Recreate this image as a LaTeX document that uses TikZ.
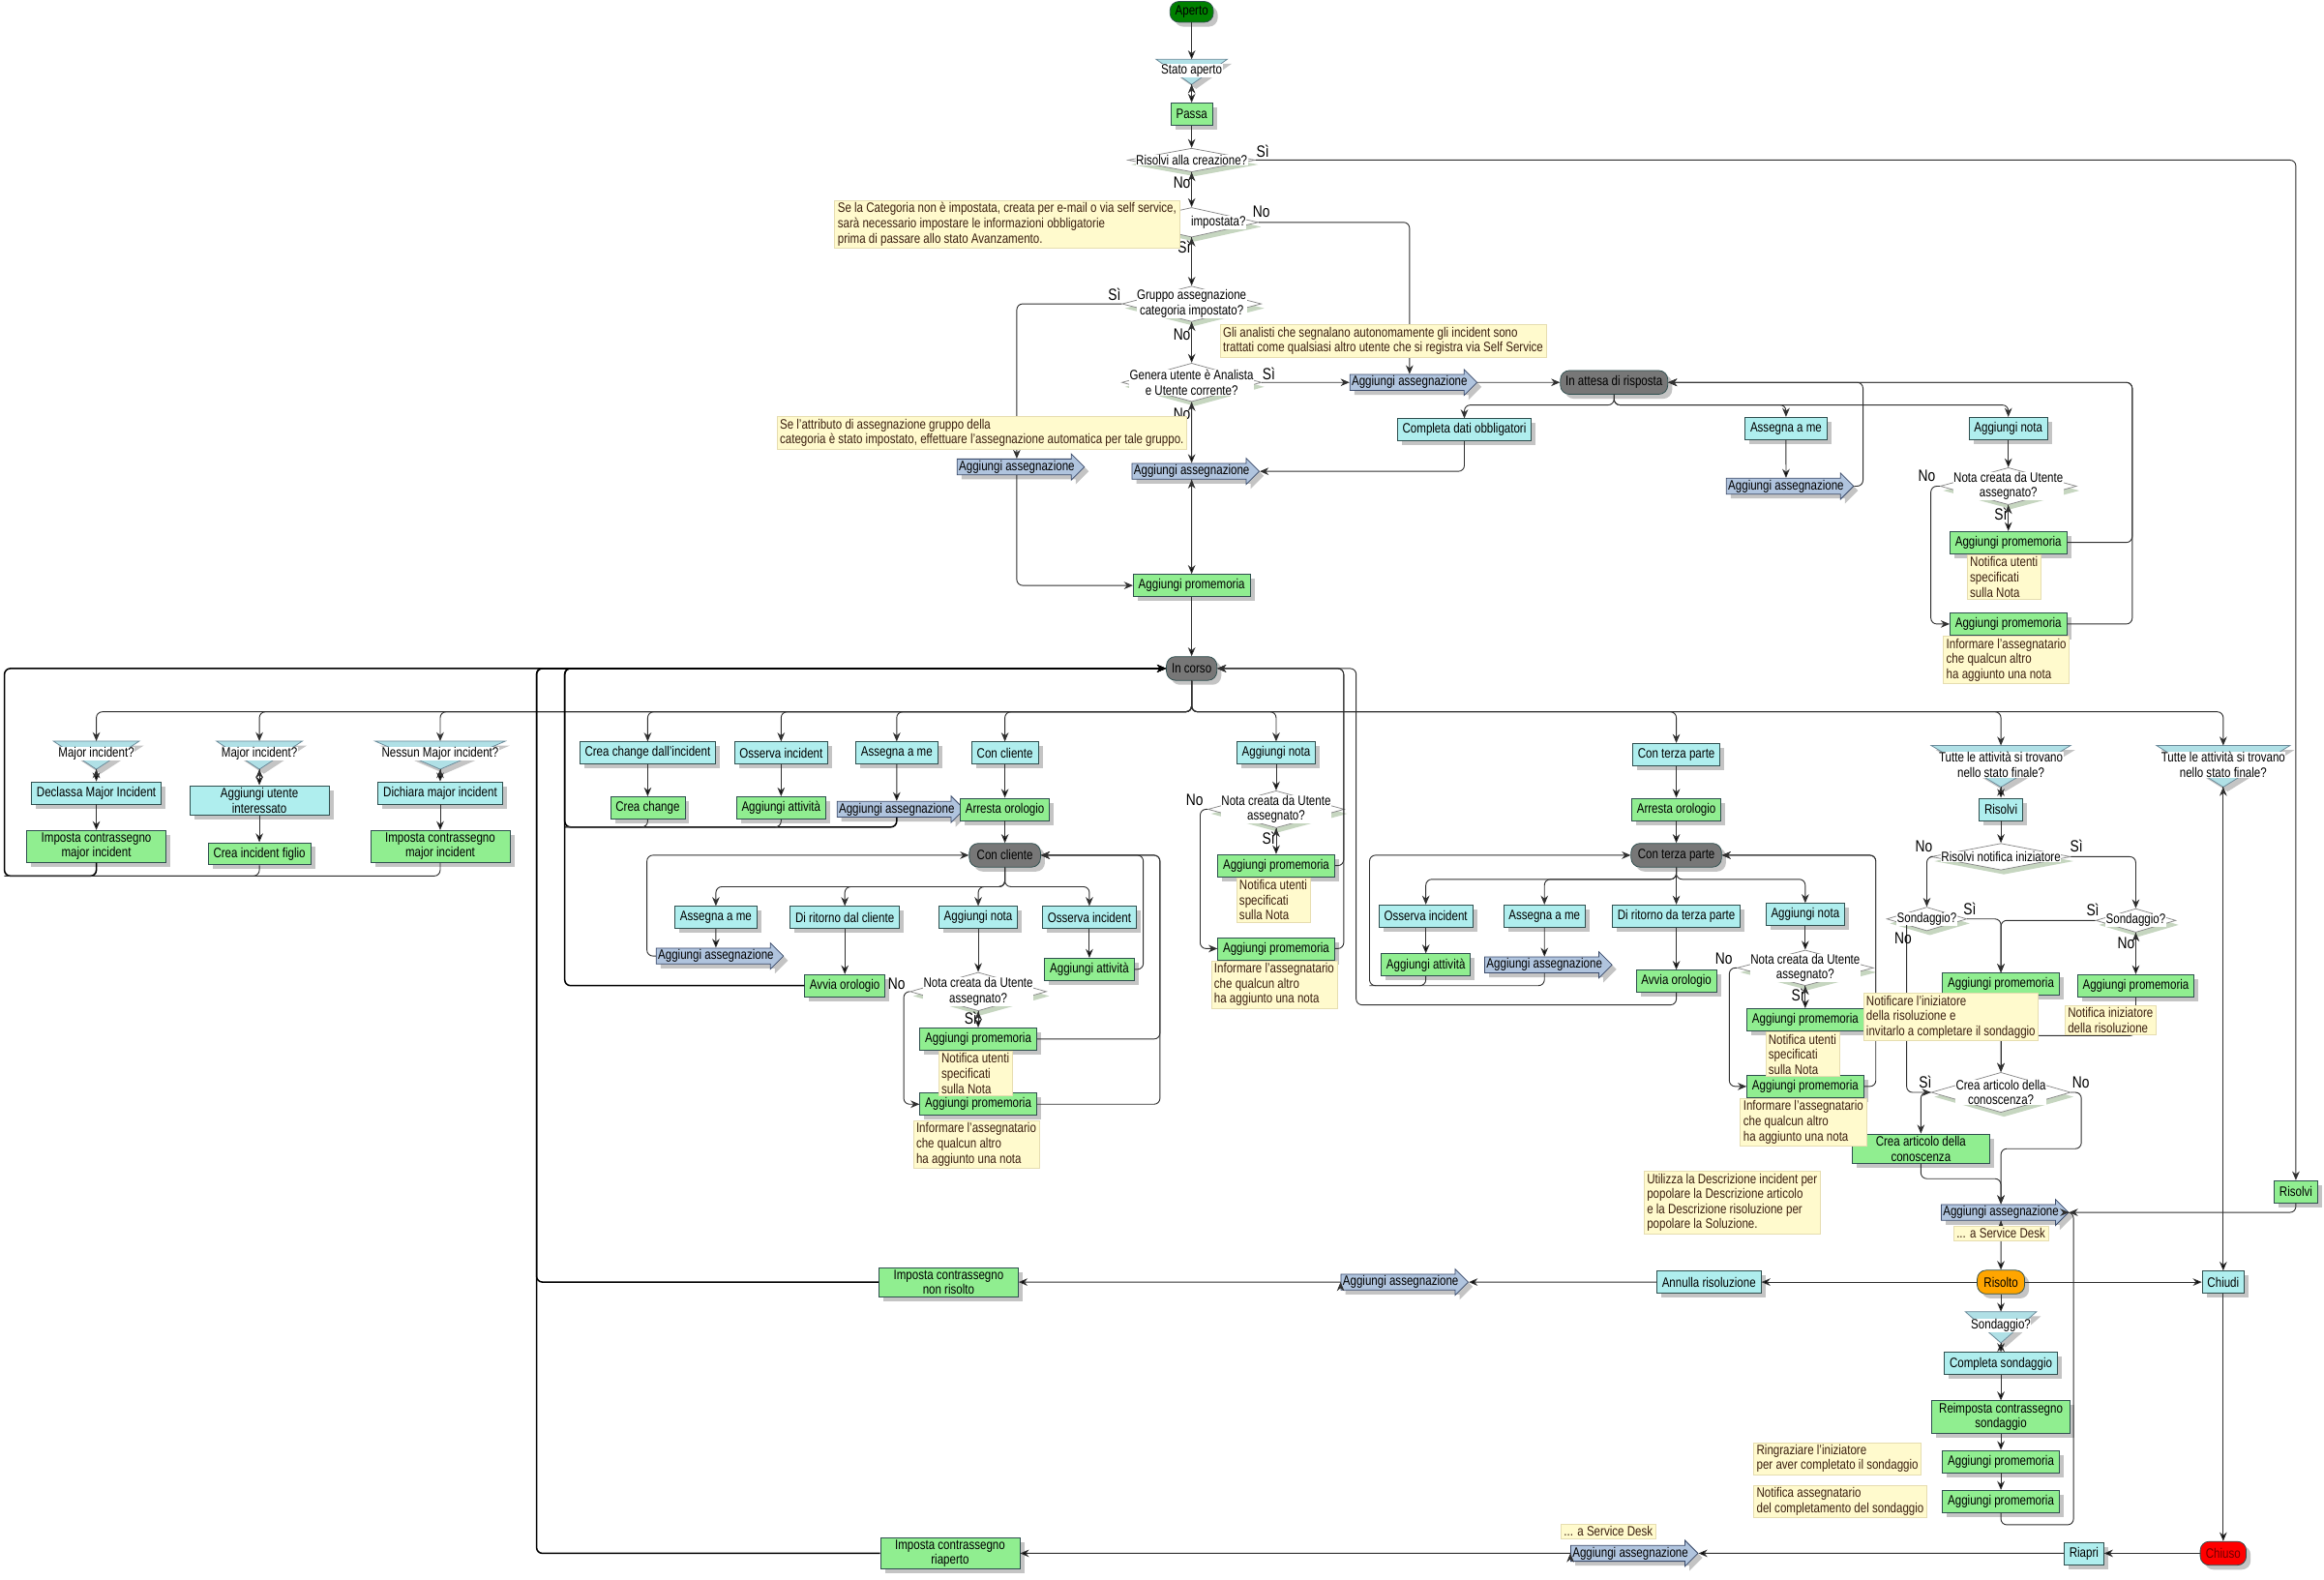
\documentclass[tikz,border=0pt]{standalone}
\usepackage{fontspec}
\setmainfont{Liberation Sans}[FakeStretch=0.82]
\usetikzlibrary{shapes.geometric,shapes.arrows,shadows,arrows.meta}

\definecolor{actc}{HTML}{AFEEEE}
\definecolor{donec}{HTML}{90EE90}
\definecolor{statec}{HTML}{777777}
\definecolor{okgreen}{HTML}{008000}
\definecolor{resolvedc}{HTML}{FFA500}
\definecolor{closedc}{HTML}{FF0000}
\definecolor{closedtxt}{HTML}{700000}
\definecolor{assignc}{HTML}{B0C4DE}
\definecolor{assignbd}{HTML}{3A4A6A}
\definecolor{notec}{HTML}{FFFACD}
\definecolor{notebd}{HTML}{E6DDB0}
\definecolor{notetext}{HTML}{3B1F0F}
\definecolor{boxline}{HTML}{2F4F4F}
\definecolor{shadowc}{HTML}{C4C4C4}
\definecolor{decshadow}{HTML}{C6D6C0}
\definecolor{decbd}{HTML}{8A8A8A}
\definecolor{mergec}{HTML}{B0E0E6}
\definecolor{mergebd}{HTML}{6A8A9A}
\definecolor{linec}{HTML}{303030}

\newcommand\boxfont{\fontsize{9.2}{10.2}\selectfont}
\newcommand\lblfont{\fontsize{11}{12}\selectfont}

\tikzset{
	boxshadow/.style={drop shadow={shadow xshift=3pt, shadow yshift=-3pt, fill=shadowc, opacity=1}},
	flowbox/.style={draw=boxline, line width=0.5pt, inner xsep=3.5pt, inner ysep=1.5pt, minimum height=15pt, align=center, font=\boxfont, boxshadow},
	act/.style={flowbox, fill=actc},
	done/.style={flowbox, fill=donec},
	stnode/.style={flowbox, fill=statec, rounded corners=6pt, minimum height=16pt},
	startc/.style={stnode, fill=okgreen, minimum height=14pt},
	assign/.style={single arrow, single arrow head extend=3.5pt, single arrow head indent=0pt, draw=assignbd, fill=assignc, line width=0.5pt, inner xsep=1pt, inner ysep=0.8pt, font=\boxfont, boxshadow},
	dec/.style={diamond, draw=decbd, fill=white, line width=0.5pt, inner sep=0pt, drop shadow={shadow xshift=2pt, shadow yshift=-3pt, fill=decshadow, opacity=1}},
	dectext/.style={fill=white, inner sep=0.3pt, align=center, font=\boxfont},
	mergetext/.style={fill=white, inner sep=0.3pt, align=center, font=\boxfont},
	note/.style={anchor=north west, fill=notec, draw=notebd, line width=0.4pt, inner xsep=2pt, inner ysep=1.5pt, align=left, font=\boxfont, text=notetext},
	lbl/.style={font=\lblfont, inner sep=0.5pt},
	conn/.style={draw=linec, line width=0.6pt, rounded corners=4pt, -{Stealth[length=6pt, width=5pt]}},
	wire/.style={draw=linec, line width=0.6pt, rounded corners=4pt},
	back/.style={conn, draw=black, line width=1pt},
}

% name, x, top, tip, half width, text
\newcommand\mergenode[6]{%
	\fill[shadowc] (#2-#5+3,#3+3) -- (#2+#5+3,#3+3) -- (#2+3,#4+3) -- cycle;
	\filldraw[fill=mergec, draw=mergebd, line width=0.5pt] (#2-#5,#3) -- (#2+#5,#3) -- (#2,#4) -- cycle;
	\coordinate (#1-in) at (#2,#3);
	\coordinate (#1-out) at (#2,#4);
	\node[mergetext] (#1) at (#2,{(#3+#4)/2-1}) {#6};}

\begin{document}
\begin{tikzpicture}[x=1pt, y=-1pt]
	\useasboundingbox[fill=white] (0,0) rectangle (1568,1066);

	\node[startc, minimum width=28] (aperto) at (804,8) {Aperto};
	\mergenode{statoap}{804}{40}{57}{24}{Stato aperto}
	\node[done] (passa) at (804,77) {Passa};
	\node[dec, minimum width=86, minimum height=16] (dRis) at (804,108) {};
	\node[dectext] (dRisT) at (dRis) {Risolvi alla creazione?};
	\node[dec, minimum width=90, minimum height=20] (dCat) at (804,150) {};
	\node[dectext, anchor=east] (dCatT) at (841,150) {impostata?};
	\node[dec, minimum width=94, minimum height=24] (dGrp) at (804,205) {};
	\node[dectext] (dGrpT) at (dGrp) {Gruppo assegnazione\\categoria impostato?};
	\node[dec, minimum width=94, minimum height=26] (dGen) at (804,258) {};
	\node[dectext] (dGenT) at (dGen) {Genera utente è Analista\\e Utente corrente?};
	\node[assign] (asgA) at (951,258) {Aggiungi assegnazione};
	\node[stnode, minimum width=72] (attesa) at (1089,258) {In attesa di risposta};
	\node[assign] (asgL) at (686,315) {Aggiungi assegnazione};
	\node[assign] (asgC) at (804,318) {Aggiungi assegnazione};
	\node[done] (promA) at (804,395) {Aggiungi promemoria};
	\node[stnode, minimum width=34] (incorso) at (804,451) {In corso};

	\node[act] (complDati) at (988,290) {Completa dati obbligatori};
	\node[act] (assMeW) at (1205,289) {Assegna a me};
	\node[assign] (asgW) at (1205,328) {Aggiungi assegnazione};
	\node[act] (notaW) at (1355,289) {Aggiungi nota};
	\node[dec, minimum width=92, minimum height=25] (dNotaW) at (1355,328) {};
	\node[dectext] (dNotaWT) at (dNotaW) {Nota creata da Utente\\assegnato?};
	\node[done] (promW1) at (1355,366) {Aggiungi promemoria};
	\node[done] (promW2) at (1355,421) {Aggiungi promemoria};
	\node[done] (risolviR) at (1549,804) {Risolvi};

	\mergenode{mi1}{65}{500}{519}{29}{Major incident?}
	\node[act] (declassa) at (65,535) {Declassa Major Incident};
	\node[done, minimum width=94] (impMI1) at (65,571) {Imposta contrassegno\\major incident};
	\mergenode{mi2}{175}{500}{519}{29}{Major incident?}
	\node[act, minimum width=94] (aggUt) at (175,540) {Aggiungi utente\\interessato};
	\node[done] (creaFiglio) at (175,576) {Crea incident figlio};
	\mergenode{mi3}{297}{500}{519}{44}{Nessun Major incident?}
	\node[act] (dichiara) at (297,535) {Dichiara major incident};
	\node[done, minimum width=94] (impMI3) at (297,571) {Imposta contrassegno\\major incident};

	\node[act] (creaChgInc) at (437,508) {Crea change dall'incident};
	\node[done] (creaChg) at (437,545) {Crea change};
	\node[act] (ossInc) at (527,508) {Osserva incident};
	\node[done] (aggAtt) at (527,545) {Aggiungi attività};
	\node[act] (assMe) at (605,508) {Assegna a me};
	\node[assign] (asgM) at (605,546) {Aggiungi assegnazione};
	\node[act] (conCli) at (678,508) {Con cliente};
	\node[done] (arrOrl) at (678,546) {Arresta orologio};
	\node[stnode, minimum width=48] (stCli) at (678,577) {Con cliente};

	\node[act] (cAss) at (483,619) {Assegna a me};
	\node[assign] (cAsg) at (483,645) {Aggiungi assegnazione};
	\node[act] (cRit) at (570,619) {Di ritorno dal cliente};
	\node[done] (cAvvia) at (570,665) {Avvia orologio};
	\node[act] (cNota) at (660,619) {Aggiungi nota};
	\node[dec, minimum width=92, minimum height=26] (dNotaC) at (660,669) {};
	\node[dectext] (dNotaCT) at (dNotaC) {Nota creata da Utente\\assegnato?};
	\node[done] (cProm1) at (660,701) {Aggiungi promemoria};
	\node[done] (cProm2) at (660,745) {Aggiungi promemoria};
	\node[act] (cOss) at (735,619) {Osserva incident};
	\node[done] (cAtt) at (735,654) {Aggiungi attività};

	\node[act] (iNota) at (861,508) {Aggiungi nota};
	\node[dec, minimum width=92, minimum height=25] (dNotaI) at (861,546) {};
	\node[dectext] (dNotaIT) at (dNotaI) {Nota creata da Utente\\assegnato?};
	\node[done] (iProm1) at (861,584) {Aggiungi promemoria};
	\node[done] (iProm2) at (861,640) {Aggiungi promemoria};

	\node[act] (conTer) at (1131,509) {Con terza parte};
	\node[done] (arrOrlT) at (1131,546) {Arresta orologio};
	\node[stnode, minimum width=61] (stTer) at (1131,577) {Con terza parte};
	\node[act] (tOss) at (962,618) {Osserva incident};
	\node[done] (tAtt) at (962,651) {Aggiungi attività};
	\node[act] (tAss) at (1042,618) {Assegna a me};
	\node[assign] (tAsg) at (1042,651) {Aggiungi assegnazione};
	\node[act] (tRit) at (1131,618) {Di ritorno da terza parte};
	\node[done] (tAvvia) at (1131,662) {Avvia orologio};
	\node[act] (tNota) at (1218,617) {Aggiungi nota};
	\node[dec, minimum width=92, minimum height=24] (dNotaT) at (1218,653) {};
	\node[dectext] (dNotaTT) at (dNotaT) {Nota creata da Utente\\assegnato?};
	\node[done] (tProm1) at (1218,688) {Aggiungi promemoria};
	\node[done] (tProm2) at (1218,733) {Aggiungi promemoria};

	\mergenode{tutte1}{1350}{503}{531}{47}{Tutte le attività si trovano\\nello stato finale?}
	\node[act] (risolvi) at (1350,546) {Risolvi};
	\node[dec, minimum width=94, minimum height=18] (dNotif) at (1350,578) {};
	\node[dectext] (dNotifT) at (dNotif) {Risolvi notifica iniziatore};
	\node[dec, minimum width=54, minimum height=16] (dSond1) at (1300,620) {};
	\node[dectext] (dSond1T) at (dSond1) {Sondaggio?};
	\node[dec, minimum width=54, minimum height=16] (dSond2) at (1441,621) {};
	\node[dectext] (dSond2T) at (dSond2) {Sondaggio?};
	\node[done] (promS) at (1350,664) {Aggiungi promemoria};
	\node[done] (promN) at (1441,665) {Aggiungi promemoria};
	\node[dec, minimum width=94, minimum height=27] (dArt) at (1350,737) {};
	\node[dectext] (dArtT) at (dArt) {Crea articolo della\\conoscenza?};
	\node[done, minimum width=93] (creaArt) at (1296,775) {Crea articolo della\\conoscenza};
	\node[assign] (asgSD) at (1350,818) {Aggiungi assegnazione};
	\node[stnode, fill=resolvedc, minimum width=32] (risolto) at (1350,865) {Risolto};
	\node[act] (annulla) at (1153,865) {Annulla risoluzione};
	\node[assign] (asgNR) at (945,865) {Aggiungi assegnazione};
	\node[done, minimum width=94] (impNR) at (640,865) {Imposta contrassegno\\non risolto};
	\node[act] (chiudi) at (1500,865) {Chiudi};
	\mergenode{sondM}{1350}{885}{906}{24}{Sondaggio?}
	\node[act] (complSond) at (1350,920) {Completa sondaggio};
	\node[done, minimum width=93] (reimp) at (1350,956) {Reimposta contrassegno\\sondaggio};
	\node[done] (promR1) at (1350,986) {Aggiungi promemoria};
	\node[done] (promR2) at (1350,1013) {Aggiungi promemoria};
	\mergenode{tutte2}{1500}{503}{531}{45}{Tutte le attività si trovano\\nello stato finale?}
	\node[stnode, fill=closedc, text=closedtxt, minimum width=31] (chiuso) at (1500,1048) {Chiuso};
	\node[act] (riapri) at (1406,1048) {Riapri};
	\node[assign] (asgRia) at (1100,1048) {Aggiungi assegnazione};
	\node[done, minimum width=94] (impRia) at (641,1048) {Imposta contrassegno\\riaperto};

	\coordinate (loopMI) at (3,591);
	\coordinate (loopChg) at (381,558);
	\coordinate (loopR) at (362,451);
	\coordinate (loopT) at (924,665);
	\coordinate (loopT2) at (915,678);

	\path [conn] (aperto) edge (statoap-in);
	\path [conn] (statoap-out) edge (passa);
	\path [conn] (passa) edge (dRis.north);
	\path [conn] (dRis.south) edge node[lbl, pos=0.3, left] {No} (dCat.north);
	\draw [conn] (dRis.east) -| (risolviR.north);
	\draw [conn] (dCat.east) -| (asgA.north);
	\path [conn] (dCat.south) edge node[lbl, pos=0.2, left] {Sì} (dGrp.north);
	\path [conn] (dGrp.south) edge node[lbl, pos=0.3, left] {No} (dGen.north);
	\draw [conn] (dGrp.west) -| (asgL.north);
	\path [conn] (dGen.south) edge node[lbl, pos=0.2, left] {No} (asgC.north);
	\draw [conn] (dGen.east) -- (asgA.west);
	\draw [conn] (asgA.east) -- (attesa.west);
	\draw [conn] (asgL.south) |- (promA.west);
	\path [conn] (asgC.south) edge (promA.north);
	\path [conn] (promA) edge (incorso);

	\draw [conn] (attesa.south) -- ++(0,7) -| (complDati.north);
	\draw [conn] (attesa.south) -- ++(0,7) -| (assMeW.north);
	\draw [conn] (attesa.south) -- ++(0,7) -| (notaW.north);
	\draw [conn] (complDati.south) |- (asgC.east);
	\path [conn] (assMeW) edge (asgW.north);
	\draw [conn] (asgW.east) -- ++(6,0) |- (attesa.east);
	\path [conn] (notaW) edge (dNotaW.north);
	\path [conn] (dNotaW.south) edge node[lbl, pos=0.35, left] {Sì} (promW1);
	\draw [conn] (dNotaW.west) -- ++(-6,0) |- (promW2.west);
	\draw [conn] (promW1.east) -- ++(44,0) |- (attesa.east);
	\draw [conn] (promW2.east) -- ++(44,0) |- (attesa.east);

	\draw [conn] (incorso.south) -- ++(0,21) -| (mi1-in);
	\draw [conn] (incorso.south) -- ++(0,21) -| (mi2-in);
	\draw [conn] (incorso.south) -- ++(0,21) -| (mi3-in);
	\draw [conn] (incorso.south) -- ++(0,21) -| (creaChgInc.north);
	\draw [conn] (incorso.south) -- ++(0,21) -| (ossInc.north);
	\draw [conn] (incorso.south) -- ++(0,21) -| (assMe.north);
	\draw [conn] (incorso.south) -- ++(0,21) -| (conCli.north);
	\draw [conn] (incorso.south) -- ++(0,21) -| (iNota.north);
	\draw [conn] (incorso.south) -- ++(0,21) -| (conTer.north);
	\draw [conn] (incorso.south) -- ++(0,21) -| (tutte1-in);
	\draw [conn] (incorso.south) -- ++(0,21) -| (tutte2-in);

	\path [conn] (mi1-out) edge (declassa);
	\path [conn] (declassa) edge (impMI1);
	\path [conn] (mi2-out) edge (aggUt);
	\path [conn] (aggUt) edge (creaFiglio);
	\path [conn] (mi3-out) edge (dichiara);
	\path [conn] (dichiara) edge (impMI3);
	\draw [back] (impMI1.south) |- (loopMI) |- (incorso.west);
	\draw [wire] (creaFiglio.south) |- (loopMI);
	\draw [wire] (impMI3.south) |- (loopMI);

	\path [conn] (creaChgInc) edge (creaChg);
	\path [conn] (ossInc) edge (aggAtt);
	\path [conn] (assMe) edge (asgM.north);
	\draw [back] (asgM.south) |- (loopChg) |- (incorso.west);
	\draw [wire] (creaChg.south) |- (loopChg);
	\draw [wire] (aggAtt.south) |- (loopChg);
	\path [conn] (conCli) edge (arrOrl);
	\path [conn] (arrOrl) edge (stCli);

	\draw [conn] (stCli.south) -- ++(0,13) -| (cAss.north);
	\draw [conn] (stCli.south) -- ++(0,13) -| (cRit.north);
	\draw [conn] (stCli.south) -- ++(0,13) -| (cNota.north);
	\draw [conn] (stCli.south) -- ++(0,13) -| (cOss.north);
	\path [conn] (cAss) edge (cAsg.north);
	\draw [conn] (cAsg.west) -- ++(-6,0) |- (stCli.west);
	\path [conn] (cRit) edge (cAvvia);
	\draw [back] (cAvvia.west) -| (loopChg) |- (incorso.west);
	\path [conn] (cNota) edge (dNotaC.north);
	\path [conn] (dNotaC.south) edge node[lbl, pos=0.4, left] {Sì} (cProm1);
	\draw [conn] (dNotaC.west) -- ++(-4,0) |- (cProm2.west);
	\path [conn] (cOss) edge (cAtt);
	\draw [conn] (cAtt.east) -- ++(6,0) |- (stCli.east);
	\draw [conn] (cProm1.east) -- ++(83,0) |- (stCli.east);
	\draw [conn] (cProm2.east) -- ++(83,0) |- (stCli.east);

	\path [conn] (iNota) edge (dNotaI.north);
	\path [conn] (dNotaI.south) edge node[lbl, pos=0.4, left] {Sì} (iProm1);
	\draw [conn] (dNotaI.west) -- ++(-5,0) |- (iProm2.west);
	\draw [conn] (iProm1.east) -- ++(6,0) |- (incorso.east);
	\draw [conn] (iProm2.east) -- ++(6,0) |- (incorso.east);

	\path [conn] (conTer) edge (arrOrlT);
	\path [conn] (arrOrlT) edge (stTer);
	\draw [conn] (stTer.south) -- ++(0,8) -| (tOss.north);
	\draw [conn] (stTer.south) -- ++(0,8) -| (tAss.north);
	\draw [conn] (stTer.south) -- ++(0,8) -| (tRit.north);
	\draw [conn] (stTer.south) -- ++(0,8) -| (tNota.north);
	\path [conn] (tOss) edge (tAtt);
	\path [conn] (tAss) edge (tAsg.north);
	\path [conn] (tRit) edge (tAvvia);
	\path [conn] (tNota) edge (dNotaT.north);
	\draw [conn] (tAsg.south) |- (loopT) |- (stTer.west);
	\draw [wire] (tAtt.south) |- (loopT);
	\draw [conn] (tAvvia.south) |- (loopT2) |- (incorso.east);
	\path [conn] (dNotaT.south) edge node[lbl, pos=0.4, left] {Sì} (tProm1);
	\draw [conn] (dNotaT.west) -- ++(-5,0) |- (tProm2.west);
	\draw [conn] (tProm1.east) -- ++(8,0) |- (stTer.east);
	\draw [conn] (tProm2.east) -- ++(8,0) |- (stTer.east);

	\path [conn] (tutte1-out) edge (risolvi);
	\path [conn] (risolvi) edge (dNotif.north);
	\draw [conn] (dNotif.west) -| (dSond1.north);
	\draw [conn] (dNotif.east) -| (dSond2.north);
	\draw [conn] (dSond1.east) -| (promS.north);
	\draw [conn] (dSond2.west) -| (promS.north);
	\path [conn] (dSond2.south) edge node[lbl, pos=0.25, left] {No} (promN);
	\draw [conn] (dSond1.south west) |- (dArt.west);
	\path [conn] (promS) edge (dArt.north);
	\draw [conn] (promN.south) -- ++(0,26) -| (dArt.north);
	\draw [conn] (dArt.west) -| (creaArt.north);
	\draw [conn] (dArt.east) -- ++(7,0) -- ++(0,38) -| (asgSD.north);
	\draw [conn] (creaArt.south) -- ++(0,10) -| (asgSD.north);
	\path [conn] (asgSD.south) edge (risolto.north);
	\path [conn] (risolto) edge (annulla);
	\path [conn] (annulla) edge (asgNR.east);
	\path [conn] (asgNR.west) edge (impNR);
	\draw [back] (impNR.west) -| (loopR) -- (incorso.west);
	\path [conn] (risolto) edge (chiudi);
	\path [conn] (risolto) edge (sondM-in);
	\path [conn] (sondM-out) edge (complSond);
	\path [conn] (complSond) edge (reimp);
	\path [conn] (reimp) edge (promR1);
	\path [conn] (promR1) edge (promR2);
	\draw [conn] (promR2.south) -- ++(0,8) -- ++(49,0) |- (asgSD.east);
	\draw [conn] (risolviR.south) |- (asgSD.east);
	\path [conn] (tutte2-out) edge (chiudi);
	\path [conn] (chiudi) edge (chiuso);
	\path [conn] (chiuso) edge (riapri);
	\path [conn] (riapri) edge (asgRia.east);
	\path [conn] (asgRia.west) edge (impRia);
	\draw [back] (impRia.west) -| (loopR) -- (incorso.west);

	\node[lbl] (lSiRis) at (852,102) {Sì};
	\node[lbl] (lNoCat) at (851,143) {No};
	\node[lbl] (lSiGrp) at (752,199) {Sì};
	\node[lbl] (lSiGen) at (856,252) {Sì};
	\node[lbl] (lNoW) at (1300,321) {No};
	\node[lbl] (lNoC) at (605,664) {No};
	\node[lbl] (lNoI) at (806,540) {No};
	\node[lbl] (lNoT) at (1163,647) {No};
	\node[lbl] (lNoNotif) at (1298,571) {No};
	\node[lbl] (lSiNotif) at (1401,571) {Sì};
	\node[lbl] (lSiS1) at (1329,613) {Sì};
	\node[lbl] (lSiS2) at (1412,614) {Sì};
	\node[lbl] (lNoS1) at (1284,633) {No};
	\node[lbl] (lSiArt) at (1299,730) {Sì};
	\node[lbl] (lNoArt) at (1404,730) {No};

	\node[note] (nCat) at (563,135) {Se la Categoria non è impostata, creata per e-mail o via self service,\\sarà necessario impostare le informazioni obbligatorie\\prima di passare allo stato Avanzamento.};
	\node[note] (nAnal) at (823,219) {Gli analisti che segnalano autonomamente gli incident sono\\trattati come qualsiasi altro utente che si registra via Self Service};
	\node[note] (nAttr) at (524,281) {Se l'attributo di assegnazione gruppo della\\categoria è stato impostato, effettuare l'assegnazione automatica per tale gruppo.};
	\node[note] (nW1) at (1327,374) {Notifica utenti\\specificati\\sulla Nota};
	\node[note] (nW2) at (1311,429) {Informare l'assegnatario\\che qualcun altro\\ha aggiunto una nota};
	\node[note] (ncP1) at (633,709) {Notifica utenti\\specificati\\sulla Nota};
	\node[note] (ncP2) at (616,756) {Informare l'assegnatario\\che qualcun altro\\ha aggiunto una nota};
	\node[note] (niP1) at (834,592) {Notifica utenti\\specificati\\sulla Nota};
	\node[note] (niP2) at (817,648) {Informare l'assegnatario\\che qualcun altro\\ha aggiunto una nota};
	\node[note] (ntP1) at (1191,696) {Notifica utenti\\specificati\\sulla Nota};
	\node[note] (ntP2) at (1174,741) {Informare l'assegnatario\\che qualcun altro\\ha aggiunto una nota};
	\node[note] (nPromS) at (1257,670) {Notificare l'iniziatore\\della risoluzione e\\invitarlo a completare il sondaggio};
	\node[note] (nPromN) at (1393,678) {Notifica iniziatore\\della risoluzione};
	\node[note] (nArt) at (1109,790) {Utilizza la Descrizione incident per\\popolare la Descrizione articolo\\e la Descrizione risoluzione per\\popolare la Soluzione.};
	\node[note, anchor=north] (nSD1) at (1350,827) {... a Service Desk};
	\node[note] (nR1) at (1183,973) {Ringraziare l'iniziatore\\per aver completato il sondaggio};
	\node[note] (nR2) at (1183,1002) {Notifica assegnatario\\del completamento del sondaggio};
	\node[note] (nSD2) at (1053,1028) {... a Service Desk};
\end{tikzpicture}
\end{document}
